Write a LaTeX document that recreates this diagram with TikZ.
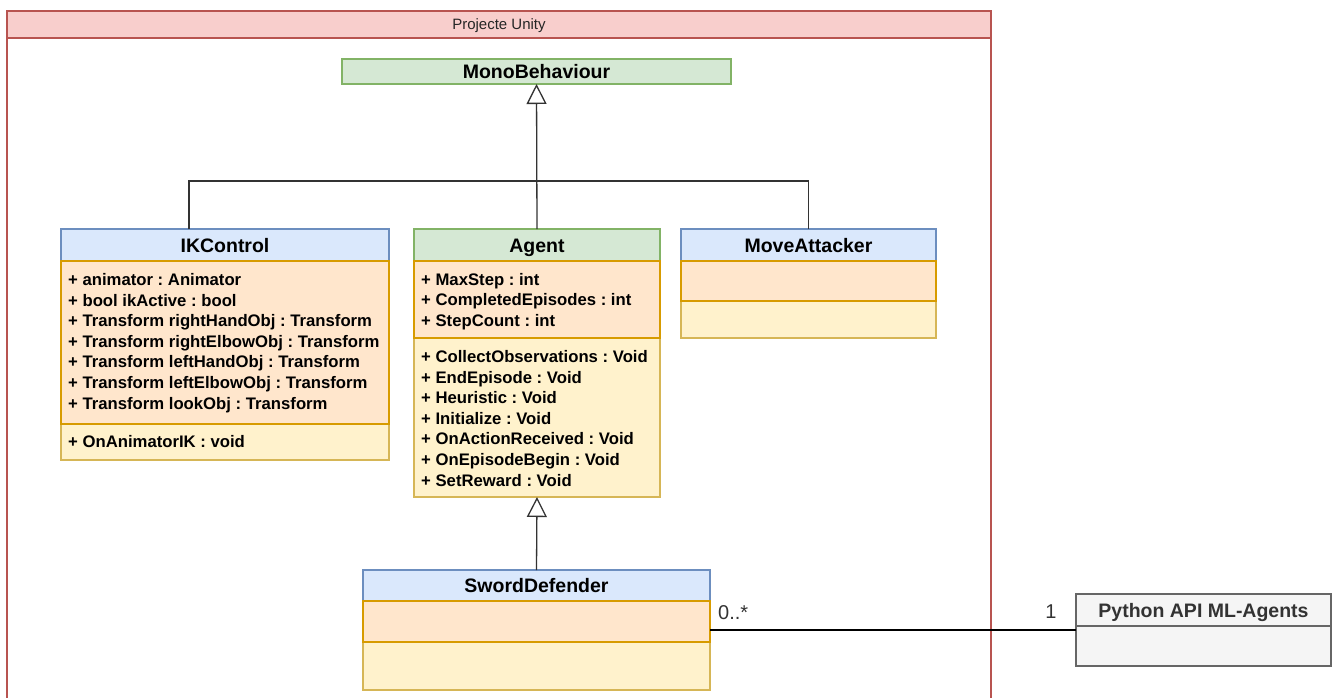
\documentclass[tikz,border=0pt]{standalone}
\usepackage{fontspec}
\setmainfont{Liberation Sans}
\usetikzlibrary{arrows.meta,fit,calc}
\frenchspacing

\definecolor{greenF}{HTML}{D5E8D4}\definecolor{greenD}{HTML}{82B366}
\definecolor{blueF}{HTML}{DAE8FC}\definecolor{blueD}{HTML}{6C8EBF}
\definecolor{orangeF}{HTML}{FFE6CC}\definecolor{orangeD}{HTML}{D79B00}
\definecolor{yellowF}{HTML}{FFF2CC}\definecolor{yellowD}{HTML}{D6B656}
\definecolor{redF}{HTML}{F8CECC}\definecolor{redD}{HTML}{B85450}
\definecolor{grayF}{HTML}{F5F5F5}\definecolor{grayD}{HTML}{666666}
\definecolor{ink}{HTML}{333333}

\tikzset{
  compart/.style={draw, line width=1.3pt, inner sep=0pt, outer sep=0pt},
  hdrgreen/.style={compart, fill=greenF, draw=greenD},
  hdrblue/.style={compart, fill=blueF, draw=blueD},
  attrbox/.style={compart, fill=orangeF, draw=orangeD},
  methbox/.style={compart, fill=yellowF, draw=yellowD},
  graybox/.style={compart, fill=grayF, draw=grayD},
  title/.style={font=\fontsize{19.5}{22}\selectfont\bfseries, inner sep=0pt,
                text height=14pt, text depth=0pt, anchor=center},
  member/.style={font=\fontsize{16.7}{20}\selectfont\bfseries, anchor=base west, inner sep=0pt},
  mult/.style={font=\fontsize{20}{22}\selectfont, text=ink, inner sep=0pt},
  inherit/.style={draw=ink, line width=1.3pt, -{Triangle[open, length=20pt, width=20pt, fill=white]}},
  plainline/.style={draw=ink, line width=1.3pt},
  assoc/.style={draw=black, line width=1.5pt},
}

\begin{document}
\begin{tikzpicture}[x=1pt, y=-1pt]
\useasboundingbox (0,0) rectangle (1334,697);
\clip (0,0) rectangle (1334,697);

% package frame
\node[compart, draw=redD, fill=white, fit={(7,11) (991,710)}] (frame) {};
\node[compart, draw=redD, fill=redF, fit={(7,11) (991,38)}] (framehead) {};
\node[font=\fontsize{15}{18}\selectfont, text=black!85, inner sep=0pt,
      text height=10.7pt, text depth=0pt] (framehead-t) at (framehead.center) {Projecte Unity};

% MonoBehaviour
\node[hdrgreen, fit={(342,59) (731,84)}] (mono) {};
\node[title] (mono-t) at (mono.center) {MonoBehaviour};

% IKControl
\node[hdrblue, fit={(61,229) (389,261)}] (ik-h) {};
\node[title] (ik-t) at (ik-h.center) {IKControl};
\node[methbox, fit={(61,424) (389,460)}] (ik-m) {};
\node[attrbox, fit={(61,261) (389,424)}] (ik-a) {};
\foreach \t [count=\i from 0] in {
  {+ animator : Animator},
  {+ bool ikActive : bool},
  {+ Transform rightHandObj : Transform},
  {+ Transform rightElbowObj : Transform},
  {+ Transform leftHandObj : Transform},
  {+ Transform leftElbowObj : Transform},
  {+ Transform lookObj : Transform}}
  \node[member] (ik-a\i) at (68, {285.5+20.6*\i}) {\t};
\node[member] (ik-m0) at (68, 447.5) {+ OnAnimatorIK : void};

% Agent
\node[hdrgreen, fit={(414,229) (660,261)}] (ag-h) {};
\node[title] (ag-t) at (ag-h.center) {Agent};
\node[methbox, fit={(414,338) (660,497)}] (ag-m) {};
\node[attrbox, fit={(414,261) (660,338)}] (ag-a) {};
\foreach \t [count=\i from 0] in {
  {+ MaxStep : int},
  {+ CompletedEpisodes : int},
  {+ StepCount : int}}
  \node[member] (ag-a\i) at (421, {285.5+20.3*\i}) {\t};
\foreach \t [count=\i from 0] in {
  {+ CollectObservations : Void},
  {+ EndEpisode : Void},
  {+ Heuristic : Void},
  {+ Initialize : Void},
  {+ OnActionReceived : Void},
  {+ OnEpisodeBegin : Void},
  {+ SetReward : Void}}
  \node[member] (ag-m\i) at (421, {362.5+20.6*\i}) {\t};

% MoveAttacker
\node[hdrblue, fit={(681,229) (936,261)}] (ma-h) {};
\node[title] (ma-t) at (ma-h.center) {MoveAttacker};
\node[methbox, fit={(681,301) (936,338)}] (ma-m) {};
\node[attrbox, fit={(681,261) (936,301)}] (ma-a) {};

% SwordDefender
\node[hdrblue, fit={(363,570) (710,601)}] (sd-h) {};
\node[title] (sd-t) at (sd-h.center) {SwordDefender};
\node[methbox, fit={(363,642) (710,690)}] (sd-m) {};
\node[attrbox, fit={(363,601) (710,642)}] (sd-a) {};

% Python API
\node[graybox, fit={(1076,626) (1331,666)}] (py-b) {};
\node[graybox, fit={(1076,594) (1331,626)}] (py-h) {};
\node[title, text=ink] (py-t) at (py-h.center) {Python API ML-Agents};

% generalisation edges
\coordinate (bus) at (537,181);
\draw[plainline] ($(ik-h.north west)!0.39!(ik-h.north east)$) |- (bus);
\draw[plainline] (ma-h.north) |- (bus);
\draw[inherit] (ag-h.north) -- (mono.south);
\draw[inherit] (sd-h.north) -- (ag-m.south);

% association
\coordinate (assocy) at (0,630);
\draw[assoc] (sd-a.east |- assocy) -- (py-b.west |- assocy);
\node[mult, anchor=base west] (mult-sd) at (718,619) {0..*};
\node[mult, anchor=base] (mult-py) at (1051,618) {1};
\end{tikzpicture}
\end{document}
